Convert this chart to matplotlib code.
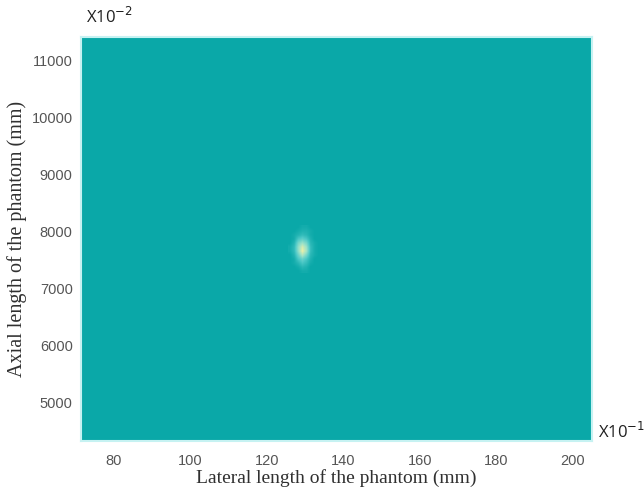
import numpy as np
import matplotlib
matplotlib.use("Agg")
import matplotlib.pyplot as plt
from matplotlib.colors import LinearSegmentedColormap

# Axis ranges (mm, as shown on the ticks)
x_range = [71.4, 205.0]
y_range = [4316, 11403]
x_ticks = [80, 100, 120, 140, 160, 180, 200]
y_ticks = [5000, 6000, 7000, 8000, 9000, 10000, 11000]

# Bright focal spot (normalised intensity), rows top -> bottom
spot_extent = [125.5, 134.0, 7260, 8100]
spot = [
    [0.00, 0.00, 0.00, 0.05, 0.05, 0.00, 0.00, 0.00],
    [0.00, 0.00, 0.05, 0.10, 0.10, 0.05, 0.00, 0.00],
    [0.00, 0.05, 0.12, 0.20, 0.15, 0.05, 0.00, 0.00],
    [0.00, 0.05, 0.30, 0.40, 0.30, 0.10, 0.00, 0.00],
    [0.00, 0.12, 0.50, 0.65, 0.50, 0.15, 0.05, 0.00],
    [0.05, 0.18, 0.60, 0.90, 0.65, 0.20, 0.05, 0.00],
    [0.05, 0.18, 0.60, 1.00, 0.70, 0.20, 0.05, 0.00],
    [0.00, 0.12, 0.45, 0.75, 0.50, 0.15, 0.05, 0.00],
    [0.00, 0.05, 0.30, 0.45, 0.30, 0.10, 0.00, 0.00],
    [0.00, 0.05, 0.15, 0.30, 0.20, 0.05, 0.00, 0.00],
    [0.00, 0.00, 0.05, 0.15, 0.10, 0.00, 0.00, 0.00],
    [0.00, 0.00, 0.00, 0.05, 0.05, 0.00, 0.00, 0.00],
]

bg = '#0aa8a8'
cmap = LinearSegmentedColormap.from_list(
    'teal', [bg, '#50cac8', '#9ee2c8', '#ecf0a8'])

fig = plt.figure(figsize=(6.44, 4.95), dpi=100)
ax = fig.add_axes([0.1258, 0.109, 0.7934, 0.816])
ax.set_facecolor(bg)

ax.imshow(np.array(spot), cmap=cmap, vmin=0, vmax=1, extent=spot_extent,
          aspect='auto', interpolation='bilinear', zorder=1)

ax.set_xlim(x_range)
ax.set_ylim(y_range)
ax.set_xticks(x_ticks)
ax.set_yticks(y_ticks)
ax.tick_params(length=0, labelsize=10.5, labelcolor='#555555')
ax.tick_params(axis='x', pad=9)
ax.tick_params(axis='y', pad=6)
for lab in ax.get_xticklabels() + ax.get_yticklabels():
    lab.set_family('Liberation Sans')

for s in ax.spines.values():
    s.set_color('#c6f2f2')
    s.set_linewidth(1.5)

ax.set_xlabel('Lateral length of the phantom (mm)', family='Liberation Serif',
              fontsize=14, color='#303030', labelpad=1)
ax.set_ylabel('Axial length of the phantom (mm)', family='Liberation Serif',
              fontsize=14.5, color='#303030', labelpad=3)

fig.text(0.133, 0.965, r'X10$^{-2}$', family='Open Sans', fontsize=12,
         color='#202020', va='center')
fig.text(0.928, 0.127, r'X10$^{-1}$', family='Open Sans', fontsize=12,
         color='#202020', va='center')

fig.savefig('out.png', dpi=100, facecolor='white')
